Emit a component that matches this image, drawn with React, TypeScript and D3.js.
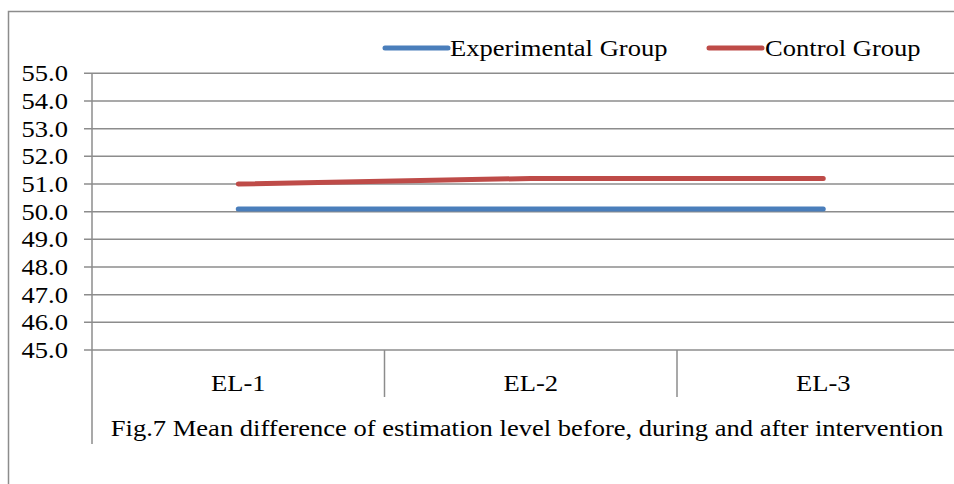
import { useEffect, useRef } from "react";
import * as d3 from "d3";

// ── Data ──────────────────────────────────────────────────────────────────────
const categories = ["EL-1", "EL-2", "EL-3"];
const experimental = [50.1, 50.1, 50.1];
const control = [51.0, 51.2, 51.2];
const yTicks = [45, 46, 47, 48, 49, 50, 51, 52, 53, 54, 55];
const caption = "Fig.7 Mean difference of estimation level before, during and after intervention";

const SERIES = [
  { name: "Experimental Group", values: experimental, color: "#4A7EBB" },
  { name: "Control Group", values: control, color: "#BE4B48" },
];

const W = 954;
const H = 484;
const FONT = "'Liberation Serif', 'Times New Roman', serif";
const GRID = "#8c8c8c";
// the source picture is stretched sideways, so text is too
const STRETCH = 1.155;

export default function App() {
  const ref = useRef<SVGSVGElement>(null);

  useEffect(() => {
    if (!ref.current) return;
    const svg = d3.select(ref.current);
    svg.selectAll("*").remove();

    // outer chart frame (cropped on the right and bottom)
    svg.append("rect")
      .attr("x", 8.5).attr("y", 11.5)
      .attr("width", 1100).attr("height", 600)
      .attr("fill", "white")
      .attr("stroke", GRID).attr("stroke-width", 1.5);

    const x = d3.scaleBand().domain(categories).range([92, 969.5]);
    const y = d3.scaleLinear().domain([45, 55]).range([350, 73.3]);
    const [x0, x1] = x.range();

    const label = (tx: number, ty: number, s: string, anchor = "start") =>
      svg.append("text")
        .attr("transform", `translate(${tx},${ty}) scale(${STRETCH},1)`)
        .attr("text-anchor", anchor)
        .attr("dominant-baseline", "central")
        .attr("font-family", FONT)
        .attr("font-size", 23)
        .attr("fill", "#000")
        .text(s);

    // ── gridlines + y labels ─────────────────────────────────────────
    yTicks.forEach((t) => {
      svg.append("line")
        .attr("x1", 84).attr("x2", x1)
        .attr("y1", y(t)).attr("y2", y(t))
        .attr("stroke", GRID).attr("stroke-width", 1.5);
      label(68, y(t), t.toFixed(1), "end");
    });

    // y axis line (extends down past the caption level)
    svg.append("line")
      .attr("x1", x0).attr("x2", x0)
      .attr("y1", y(55)).attr("y2", 444)
      .attr("stroke", GRID).attr("stroke-width", 1.5);

    // category separators
    categories.slice(1).forEach((c) => {
      const cx = x(c)!;
      svg.append("line")
        .attr("x1", cx).attr("x2", cx)
        .attr("y1", y(45)).attr("y2", 397)
        .attr("stroke", GRID).attr("stroke-width", 1.5);
    });

    // category labels
    categories.forEach((c) => {
      label(x(c)! + x.bandwidth() / 2, 383, c, "middle");
    });

    // caption (outer category level)
    label(527, 428, caption, "middle");

    // ── lines ────────────────────────────────────────────────────────
    const line = d3.line<number>()
      .x((_, i) => x(categories[i])! + x.bandwidth() / 2)
      .y((d) => y(d));

    SERIES.forEach((s) => {
      svg.append("path")
        .datum(s.values)
        .attr("d", line)
        .attr("fill", "none")
        .attr("stroke", s.color)
        .attr("stroke-width", 5)
        .attr("stroke-linecap", "round")
        .attr("stroke-linejoin", "round");
    });

    // ── legend ───────────────────────────────────────────────────────
    const legendPos = [
      { lx1: 385, lx2: 448, tx: 450 },
      { lx1: 709, lx2: 762, tx: 765 },
    ];
    SERIES.forEach((s, i) => {
      const p = legendPos[i];
      svg.append("line")
        .attr("x1", p.lx1).attr("x2", p.lx2)
        .attr("y1", 48).attr("y2", 48)
        .attr("stroke", s.color).attr("stroke-width", 5)
        .attr("stroke-linecap", "round");
      label(p.tx, 48, s.name);
    });
  }, []);

  return (
    <svg
      ref={ref}
      width={W}
      height={H}
      style={{ position: "absolute", left: 0, top: 0, background: "white" }}
    />
  );
}
